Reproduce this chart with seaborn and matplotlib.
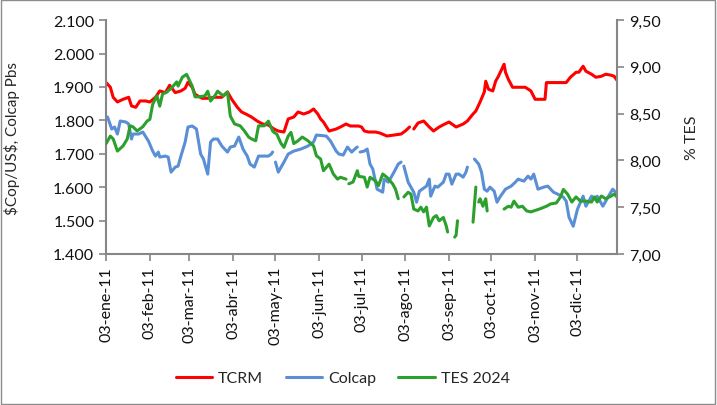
"""
TCRM, Colcap y TES 2024 durante 2011
"""

import numpy as np
import pandas as pd
import matplotlib
matplotlib.use("Agg")
import matplotlib.pyplot as plt
from matplotlib.lines import Line2D
from matplotlib.patches import Rectangle
import seaborn as sns

# datos (fechas 2011, None = sin dato)
tcrm_dates = ["01-03", "01-06", "01-08", "01-11", "01-15", "01-19", "01-21", "01-24", "01-27", "01-31",
              "02-03", "02-07", "02-10", "02-14", "02-17", "02-21", "02-25", "02-28", "03-02", "03-05",
              "03-07", "03-12", "03-16", "03-21", "03-26", "03-30", "04-02", "04-06", "04-09", "04-12",
              "04-16", "04-20", "04-24", "04-28", "05-02", "05-05", "05-09", "05-12", "05-16", "05-19",
              "05-23", "05-27", "05-30", "06-02", "06-04", "06-06", "06-10", "06-15", "06-18", "06-22",
              "06-25", "07-01", "07-03", "07-05", "07-08", "07-13", "07-16", "07-21", "07-26", "07-31",
              "08-03", "08-06", "08-07", "08-09", "08-12", "08-16", "08-20", "08-23", "08-27", "08-31",
              "09-03", "09-08", "09-13", "09-16", "09-20", "09-22", "09-25", "09-28", "09-29", "10-01",
              "10-04", "10-06", "10-08", "10-12", "10-13", "10-15", "10-18", "10-22", "10-27", "10-31",
              "11-03", "11-07", "11-10", "11-11", "11-14", "11-18", "11-21", "11-25", "11-28", "12-02",
              "12-04", "12-07", "12-09", "12-13", "12-16", "12-20", "12-23", "12-27", "12-29", "12-31"]
tcrm_vals = [1913, 1899, 1869, 1855, 1863, 1869, 1843, 1839, 1858, 1858,
             1855, 1869, 1888, 1883, 1905, 1883, 1888, 1896, 1914, 1899,
             1878, 1866, 1866, 1869, 1869, 1885, 1863, 1839, 1825, 1819,
             1810, 1798, 1789, 1786, 1774, 1768, 1765, 1804, 1810, 1825,
             1819, 1825, 1834, 1819, 1804, 1795, 1768, 1774, 1780, 1789,
             1783, 1783, 1780, 1768, 1765, 1765, 1762, 1753, 1756, 1759,
             1768, 1780, None, 1774, 1792, 1798, 1780, 1768, 1780, 1789,
             1795, 1780, 1789, 1798, 1819, 1828, 1855, 1885, 1917, 1893,
             1888, 1917, 1932, 1968, 1944, 1923, 1899, 1899, 1899, 1888,
             1863, 1863, 1863, 1913, 1913, 1913, 1913, 1913, 1929, 1944,
             1944, 1962, 1947, 1938, 1929, 1932, 1938, 1935, 1932, 1920]

colcap_dates = ["01-03", "01-04", "01-07", "01-09", "01-11", "01-13", "01-17", "01-19", "01-21", "01-22",
                "01-26", "01-29", "02-02", "02-05", "02-07", "02-09", "02-10", "02-14", "02-16", "02-18",
                "02-21", "02-23", "02-25", "02-28", "03-02", "03-05", "03-08", "03-11", "03-13", "03-15",
                "03-16", "03-18", "03-20", "03-23", "03-26", "03-30", "04-01", "04-04", "04-07", "04-10",
                "04-13", "04-15", "04-18", "04-21", "04-25", "04-28", "04-30", "05-01", "05-02", "05-03",
                "05-05", "05-09", "05-12", "05-16", "05-21", "05-26", "05-30", "06-01", "06-08", "06-11",
                "06-15", "06-17", "06-20", "06-23", "06-26", "06-29", "06-30", "07-01", "07-02", "07-05",
                "07-07", "07-09", "07-11", "07-14", "07-18", "07-19", "07-22", "07-26", "07-29", "07-31",
                "08-01", "08-02", "08-05", "08-09", "08-11", "08-13", "08-18", "08-20", "08-21", "08-24",
                "08-26", "08-30", "09-01", "09-03", "09-05", "09-08", "09-10", "09-13", "09-15", "09-16",
                "09-19", "09-21", "09-24", "09-26", "09-28", "09-30", "10-02", "10-05", "10-07", "10-09",
                "10-13", "10-17", "10-20", "10-22", "10-26", "10-29", "10-31", "11-02", "11-05", "11-09",
                "11-12", "11-16", "11-19", "11-23", "11-25", "11-27", "11-30", "12-03", "12-07", "12-09",
                "12-13", "12-15", "12-17", "12-21", "12-25", "12-28", "12-30", "12-31"]
colcap_vals = [1805, 1810, 1774, 1780, 1759, 1798, 1795, 1789, 1744, 1759,
               1759, 1765, 1738, 1708, 1693, 1705, 1690, 1693, 1690, 1645,
               1660, 1663, 1693, 1735, 1780, 1783, 1774, 1699, 1684, 1654,
               1639, 1735, 1744, 1744, 1723, 1705, 1720, 1723, 1750, 1714,
               1693, 1669, 1660, 1693, 1693, 1693, 1699, 1705, None, 1675,
               1645, 1675, 1699, 1708, 1714, 1723, 1735, 1756, 1753, 1738,
               1708, 1699, 1696, 1720, 1705, 1717, 1720, None, 1705, 1708,
               1714, 1669, 1654, 1594, 1585, 1624, 1615, 1645, 1669, 1675,
               None, 1663, 1615, 1585, 1555, 1588, 1603, 1624, 1573, 1603,
               1600, 1615, 1639, 1639, 1609, 1639, 1639, 1630, 1645, 1660,
               None, 1684, 1669, 1645, 1594, 1588, 1600, 1588, 1555, 1570,
               1594, 1603, 1615, 1624, 1618, 1633, 1624, 1639, 1594, 1600,
               1603, 1585, 1579, 1570, 1558, 1510, 1483, 1534, 1573, 1543,
               1573, 1564, 1573, 1543, 1573, 1594, 1585, 1573]

tes_dates = ["01-03", "01-06", "01-08", "01-11", "01-15", "01-18", "01-20", "01-22", "01-25", "01-29",
             "02-01", "02-03", "02-05", "02-08", "02-10", "02-12", "02-15", "02-19", "02-22", "02-23",
             "02-26", "03-01", "03-02", "03-05", "03-07", "03-10", "03-14", "03-16", "03-18", "03-21",
             "03-23", "03-27", "03-30", "04-01", "04-04", "04-08", "04-11", "04-14", "04-16", "04-19",
             "04-21", "04-25", "04-28", "05-01", "05-02", "05-04", "05-07", "05-09", "05-12", "05-14",
             "05-16", "05-19", "05-22", "05-26", "05-30", "06-01", "06-04", "06-06", "06-10", "06-13",
             "06-16", "06-18", "06-22", "06-23", "06-24", "06-27", "06-30", "07-01", "07-05", "07-07",
             "07-09", "07-13", "07-15", "07-18", "07-21", "07-25", "07-27", "07-29", "07-31", "08-02",
             "08-05", "08-07", "08-09", "08-12", "08-14", "08-16", "08-18", "08-20", "08-23", "08-25",
             "08-27", "08-30", "09-01", "09-02", "09-04", "09-07", "09-08", "09-09", "09-12", "09-20",
             "09-22", "09-23", "09-24", "09-25", "09-27", "09-29", "09-30", "10-05", "10-12", "10-15",
             "10-17", "10-19", "10-22", "10-25", "10-28", "10-31", "11-02", "11-06", "11-11", "11-14",
             "11-18", "11-21", "11-23", "11-26", "11-29", "12-02", "12-05", "12-09", "12-13", "12-15",
             "12-17", "12-20", "12-23", "12-27", "12-29", "12-31"]
tes_vals = [8.18, 8.26, 8.23, 8.10, 8.155, 8.23, 8.37, 8.36, 8.315, 8.36,
            8.42, 8.44, 8.60, 8.69, 8.58, 8.71, 8.73, 8.785, 8.84, 8.795,
            8.89, 8.92, 8.89, 8.795, 8.68, 8.68, 8.69, 8.74, 8.635, 8.69,
            8.74, 8.69, 8.73, 8.475, 8.39, 8.37, 8.315, 8.25, 8.23, 8.21,
            8.37, 8.37, 8.42, 8.315, 8.30, 8.28, 8.18, 8.14, 8.26, 8.30,
            8.18, 8.21, 8.25, 8.21, 8.155, 8.05, 8.015, 7.89, 7.96, 7.855,
            7.80, 7.82, 7.80, None, 7.75, 7.77, 7.89, 7.83, 7.82, 7.715,
            7.82, 7.78, 7.73, 7.855, 7.82, 7.75, 7.695, 7.59, None, 7.61,
            7.66, 7.64, 7.48, 7.46, 7.50, 7.45, 7.50, 7.30, 7.39, 7.41,
            7.355, 7.39, 7.30, 7.235, None, 7.18, 7.20, 7.355, None, 7.34,
            7.715, None, 7.555, 7.59, 7.51, 7.59, 7.46, None, 7.48, 7.51,
            7.50, 7.565, 7.50, 7.51, 7.46, 7.45, 7.46, 7.48, 7.51, 7.535,
            7.545, 7.61, 7.69, 7.64, 7.555, 7.61, 7.565, 7.565, 7.555, 7.61,
            7.555, 7.62, 7.59, 7.62, 7.64, 7.61]

tick_dates = ["01-03", "02-03", "03-03", "04-03", "05-03", "06-03",
              "07-03", "08-03", "09-03", "10-03", "11-03", "12-03"]
tick_labels = ["03-ene-11", "03-feb-11", "03-mar-11", "03-abr-11", "03-may-11", "03-jun-11",
               "03-jul-11", "03-ago-11", "03-sep-11", "03-oct-11", "03-nov-11", "03-dic-11"]

series_names = ["TCRM", "Colcap", "TES 2024"]
series_colors = ["#FF0000", "#5A8FD6", "#2CA02C"]


def to_frame(dates, vals):
    df = pd.DataFrame({
        "fecha": pd.to_datetime(["2011-" + d for d in dates]),
        "valor": pd.to_numeric(pd.Series(vals, dtype="object"), errors="coerce"),
    })
    # cada hueco abre un tramo nuevo
    df["tramo"] = df["valor"].isna().cumsum()
    return df.dropna()


df_tcrm = to_frame(tcrm_dates, tcrm_vals)
df_colcap = to_frame(colcap_dates, colcap_vals)
df_tes = to_frame(tes_dates, tes_vals)

sns.set_theme(style="white")
plt.rcParams["font.family"] = ["Lato", "DejaVu Sans"]
gray = "#868686"

fig = plt.figure(figsize=(7.17, 4.06), dpi=100)
ax = fig.add_axes([0.148, 0.372, 0.7125, 0.576])
ax2 = ax.twinx()

for df, color, axis in [(df_tcrm, series_colors[0], ax),
                        (df_colcap, series_colors[1], ax),
                        (df_tes, series_colors[2], ax2)]:
    sns.lineplot(data=df, x="fecha", y="valor", units="tramo", estimator=None,
                 color=color, lw=2.2, ax=axis)

ax.set_xlim(pd.Timestamp("2011-01-03"), pd.Timestamp("2011-12-31"))
ax.set_ylim(1400, 2100)
ax.set_yticks(np.arange(1400, 2101, 100))
ax.set_yticklabels([f"{v:,.0f}".replace(",", ".") for v in np.arange(1400, 2101, 100)])
ax2.set_ylim(7.0, 9.5)
ax2.set_yticks(np.arange(7.0, 9.51, 0.5))
ax2.set_yticklabels([f"{v:.2f}".replace(".", ",") for v in np.arange(7.0, 9.51, 0.5)])

ax.set_xticks(pd.to_datetime(["2011-" + d for d in tick_dates]))
ax.set_xticklabels(tick_labels, rotation=90)

ax.set_xlabel("")
ax.set_ylabel(r"\$Cop/US\$, Colcap Pbs", fontsize=11)
ax.yaxis.set_label_coords(-0.168, 0.5)
ax2.set_ylabel("% TES", fontsize=11.5)
ax2.yaxis.set_label_coords(1.133, 0.5)

for a in (ax, ax2):
    a.spines["top"].set_visible(False)
    for s in a.spines.values():
        s.set_color(gray)
        s.set_linewidth(1.5)
ax.spines["right"].set_visible(False)
ax2.spines["left"].set_visible(False)
ax2.spines["bottom"].set_visible(False)

ax.tick_params(axis="both", which="major", bottom=True, left=True, direction="out",
               length=5, width=1.2, color=gray, labelsize=11.5, labelcolor="#111111")
ax2.tick_params(axis="y", right=True, direction="out", length=5, width=1.2,
                color=gray, labelsize=11.5, labelcolor="#111111")

handles = [Line2D([], [], color=c, lw=2.2) for c in series_colors]
fig.legend(handles, series_names, loc="center", bbox_to_anchor=(0.478, 0.066), ncol=3,
           frameon=False, fontsize=11.5, handlelength=2.3, columnspacing=1.4, handletextpad=0.35)

fig.patches.append(Rectangle((0.002, 0.003), 0.995, 0.994, transform=fig.transFigure,
                             fill=False, ec="#8c8c8c", lw=1))

fig.savefig("out.png", dpi=100)
